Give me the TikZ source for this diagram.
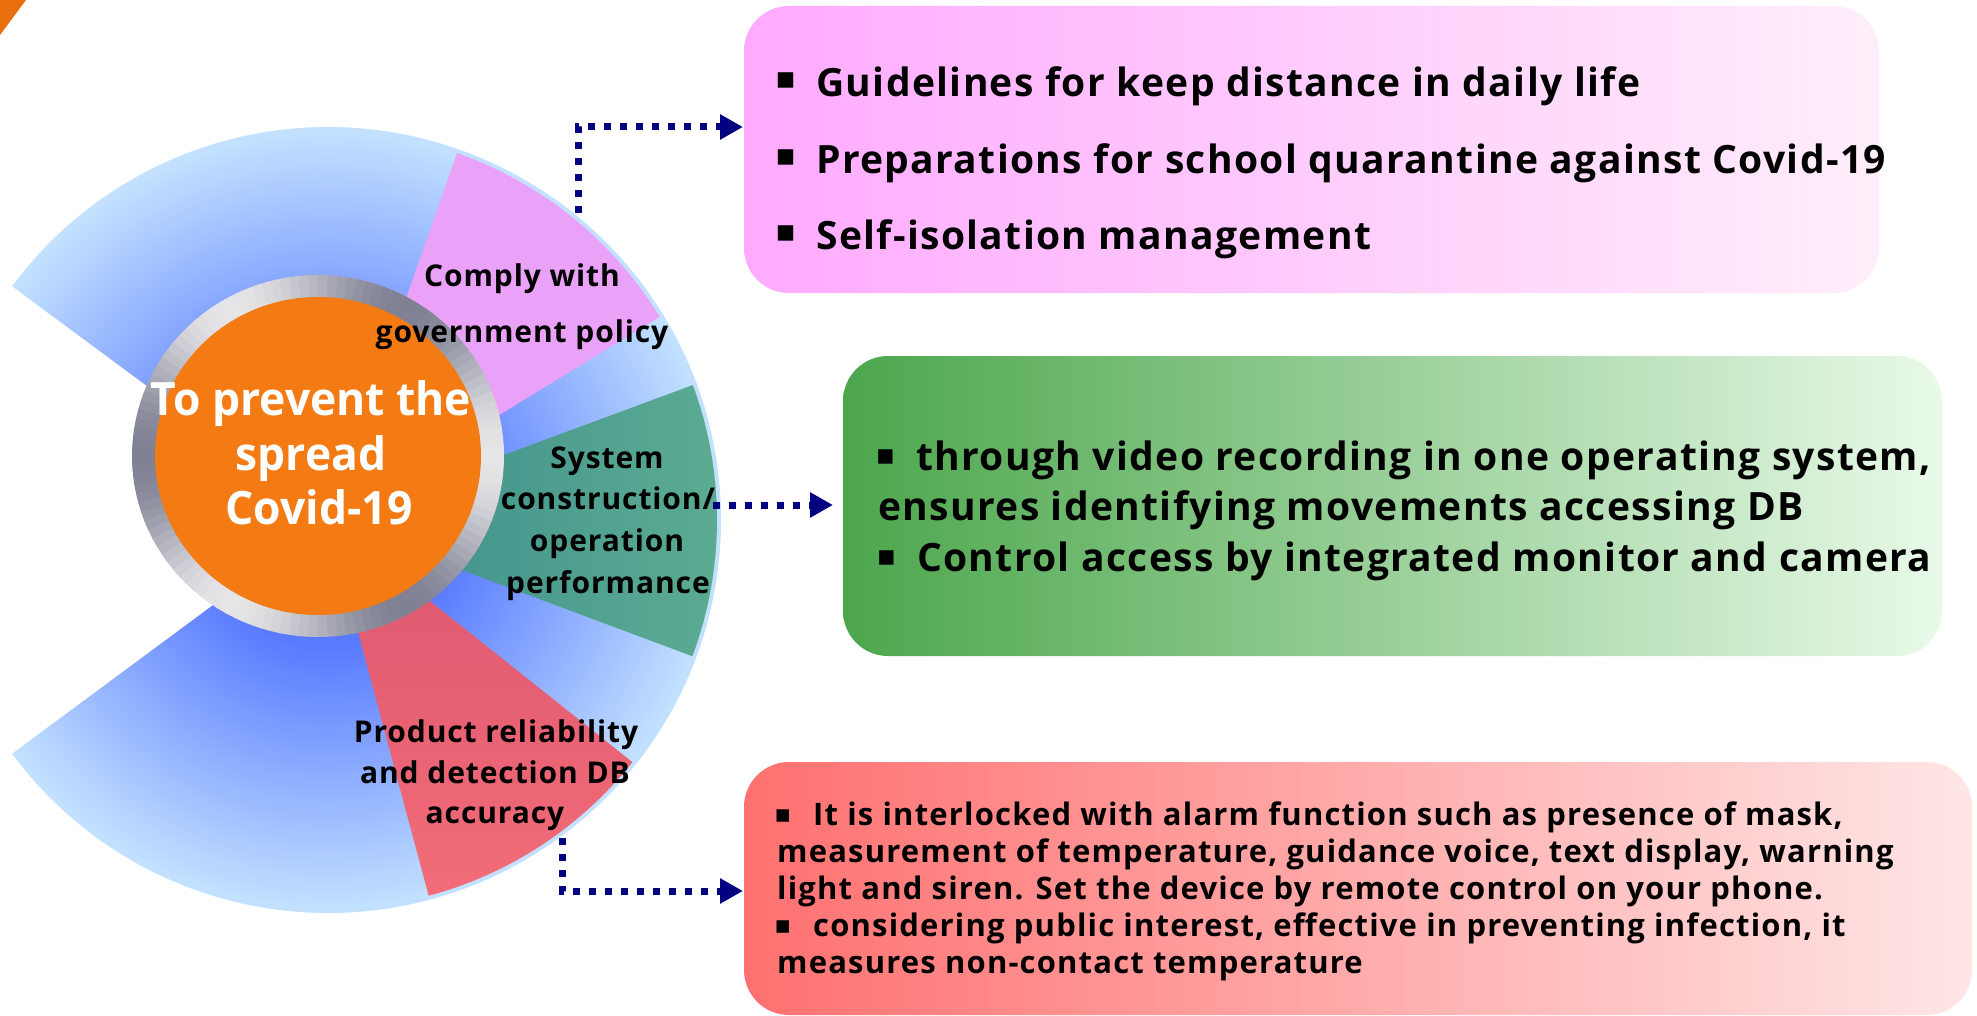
\documentclass[tikz,border=0pt]{standalone}
\usepackage{fontspec}
\usetikzlibrary{arrows.meta,calc}
\newfontfamily\mgA{Open Sans}[LetterSpace=3]
\newfontfamily\mgC{Open Sans}[LetterSpace=3.5]
\newfontfamily\mgD{Open Sans}[LetterSpace=3.8]
\newfontfamily\mgB{Open Sans}[FakeStretch=0.965]
\newfontfamily\sym{DejaVu Sans}
\definecolor{wdark}{RGB}{88,122,255}
\definecolor{wlight}{RGB}{196,226,255}
\definecolor{pinkseg}{RGB}{234,162,248}
\definecolor{teal1}{RGB}{58,140,140}
\definecolor{teal2}{RGB}{92,172,146}
\definecolor{red1}{RGB}{220,86,112}
\definecolor{red2}{RGB}{242,108,120}
\definecolor{ringlight}{RGB}{230,230,232}
\definecolor{ringdark}{RGB}{128,130,148}
\definecolor{orangec}{RGB}{244,122,20}
\definecolor{navyc}{RGB}{0,0,128}
\definecolor{pinkL}{RGB}{255,170,255}
\definecolor{pinkR}{RGB}{255,238,250}
\definecolor{greenL}{RGB}{76,166,76}
\definecolor{greenR}{RGB}{232,250,232}
\definecolor{redL}{RGB}{255,112,112}
\definecolor{redR}{RGB}{255,230,230}
\definecolor{cornerc}{RGB}{232,110,14}
\pgfdeclareradialshading{wheelshade}{\pgfpoint{0bp}{0bp}}{color(0bp)=(wdark); color(8bp)=(wdark); color(25bp)=(wlight); color(50bp)=(wlight)}
\tikzset{
  ctext/.style={font=\mgB\bfseries\fontsize{46}{46}\selectfont, text=white, inner sep=0pt},
  lab/.style={font=\mgA\bfseries\fontsize{30}{30}\selectfont, text=black, inner sep=0pt},
  boxtext/.style={font=\mgC\bfseries\fontsize{39}{39}\selectfont, text=black, inner sep=0pt, anchor=base west},
  redtext/.style={font=\mgD\bfseries\fontsize{31}{31}\selectfont, text=black, inner sep=0pt, anchor=base west},
  infobox/.style={draw=none, rounded corners=45pt, inner sep=0pt},
  conn/.style={draw=navyc, line width=7pt, dash pattern=on 7pt off 9pt, -{Triangle[length=23pt,width=24pt]}},
}
% #1 size, #2 raise, #3 gap
\newcommand{\bul}[3]{\llap{\raisebox{#2}{\sym\fontsize{#1}{#1}\selectfont ▪}\hspace{#3}}}
\begin{document}
\begin{tikzpicture}[x=1pt,y=1pt]
\useasboundingbox (0,0) rectangle (1977,-1016);
\fill[white] (0,0) rectangle (1977,-1016);
% corner triangle
\fill[cornerc] (0,0) -- (26,0) -- (0,-35) -- cycle;
% wheel
\coordinate (C) at (328,-520);
\begin{scope}
\clip (C) -- ++(-143.5:393) arc[start angle=-143.5,end angle=143.5,radius=393] -- cycle;
\shade[shading=wheelshade] (C) circle[radius=393];
\end{scope}
\fill[pinkseg] (C) -- ++(31.5:389) arc[start angle=31.5,end angle=70.6,radius=389] -- cycle;
\shade[left color=teal1,right color=teal2] (C) -- ++(-20.5:389) arc[start angle=-20.5,end angle=20.3,radius=389] -- cycle;
\shade[top color=red1,bottom color=red2] (C) -- ++(-75:389) arc[start angle=-75,end angle=-38.5,radius=389] -- cycle;
% ring
\coordinate (R0) at (318,-456);
\foreach \a in {0,3,...,357}{
  \pgfmathtruncatemacro\p{50+50*cos(3*(\a+1.5))}
  \fill[ringlight!\p!ringdark] (R0) -- ++(\a:186 and 181) arc[start angle=\a, end angle=\a+3.4, x radius=186, y radius=181] -- cycle;
}
\fill[orangec] (R0) ellipse[x radius=163, y radius=159];
% centre text
\node[ctext, anchor=base] (t1) at (311,-415) {To prevent the};
\node[ctext, anchor=base] (t2) at (311,-470) {spread};
\node[ctext, anchor=base] (t3) at (319,-524) {Covid-19};
% labels
\node[lab,anchor=base] (l1) at (522,-287) {Comply with};
\node[lab,anchor=base] (l2) at (522,-342) {government policy};
\node[lab,anchor=base] (l3) at (607,-468) {System};
\node[lab,anchor=base] (l4) at (608,-509) {construction/};
\node[lab,anchor=base] (l5) at (607,-551) {operation};
\node[lab,anchor=base] (l6) at (608,-593) {performance};
\node[lab,anchor=base] (l7) at (496,-742) {Product reliability};
\node[lab,anchor=base] (l8) at (495,-783) {and detection DB};
\node[lab,anchor=base] (l9) at (495,-823) {accuracy};
% boxes
\node[infobox, minimum width=1135pt, minimum height=287pt, left color=pinkL, right color=pinkR] (pinkbox) at (1311.5,-149.5) {};
\node[infobox, minimum width=1099pt, minimum height=300pt, left color=greenL, right color=greenR] (greenbox) at (1392.5,-506) {};
\node[infobox, minimum width=1228pt, minimum height=253pt, left color=redL, right color=redR] (redbox) at (1358,-888.5) {};
% pink text
\node[boxtext] (p1) at (816,-97) {\bul{31}{8pt}{20pt}Guidelines for keep distance in daily life};
\node[boxtext] (p2) at (816,-173.5) {\bul{31}{8pt}{20pt}Preparations for school quarantine against Covid-19};
\node[boxtext] (p3) at (816,-250) {\bul{31}{8pt}{20pt}Self-isolation management};
% green text
\node[boxtext] (g1) at (916,-470) {\bul{29}{6pt}{21pt}through video recording in one operating system,};
\node[boxtext] (g2) at (878,-520.5) {ensures identifying movements accessing DB};
\node[boxtext] (g3) at (917,-571) {\bul{29}{6pt}{21pt}Control access by integrated monitor and camera};
% red text
\node[redtext] (r1) at (813,-825) {\bul{25}{3pt}{22pt}It is interlocked with alarm function such as presence of mask,};
\node[redtext] (r2) at (777,-862) {measurement of temperature, guidance voice, text display, warning};
\node[redtext] (r3) at (777,-899) {light and siren. Set the device by remote control on your phone.};
\node[redtext] (r4) at (813,-936) {\bul{25}{3pt}{22pt}considering public interest, effective in preventing infection, it};
\node[redtext] (r5) at (777,-973) {measures non-contact temperature};
% connectors
\coordinate (a1s) at (578,-213);
\coordinate (a1e) at (743,-127);
\coordinate (a2s) at (713,-505);
\coordinate (a2e) at (833,-505);
\coordinate (a3s) at (562,-838);
\coordinate (a3e) at (743,-891);
\draw[conn] (a1s) |- (a1e);
\draw[conn] (a2s) -- (a2e);
\draw[conn] (a3s) |- (a3e);
\end{tikzpicture}
\end{document}
